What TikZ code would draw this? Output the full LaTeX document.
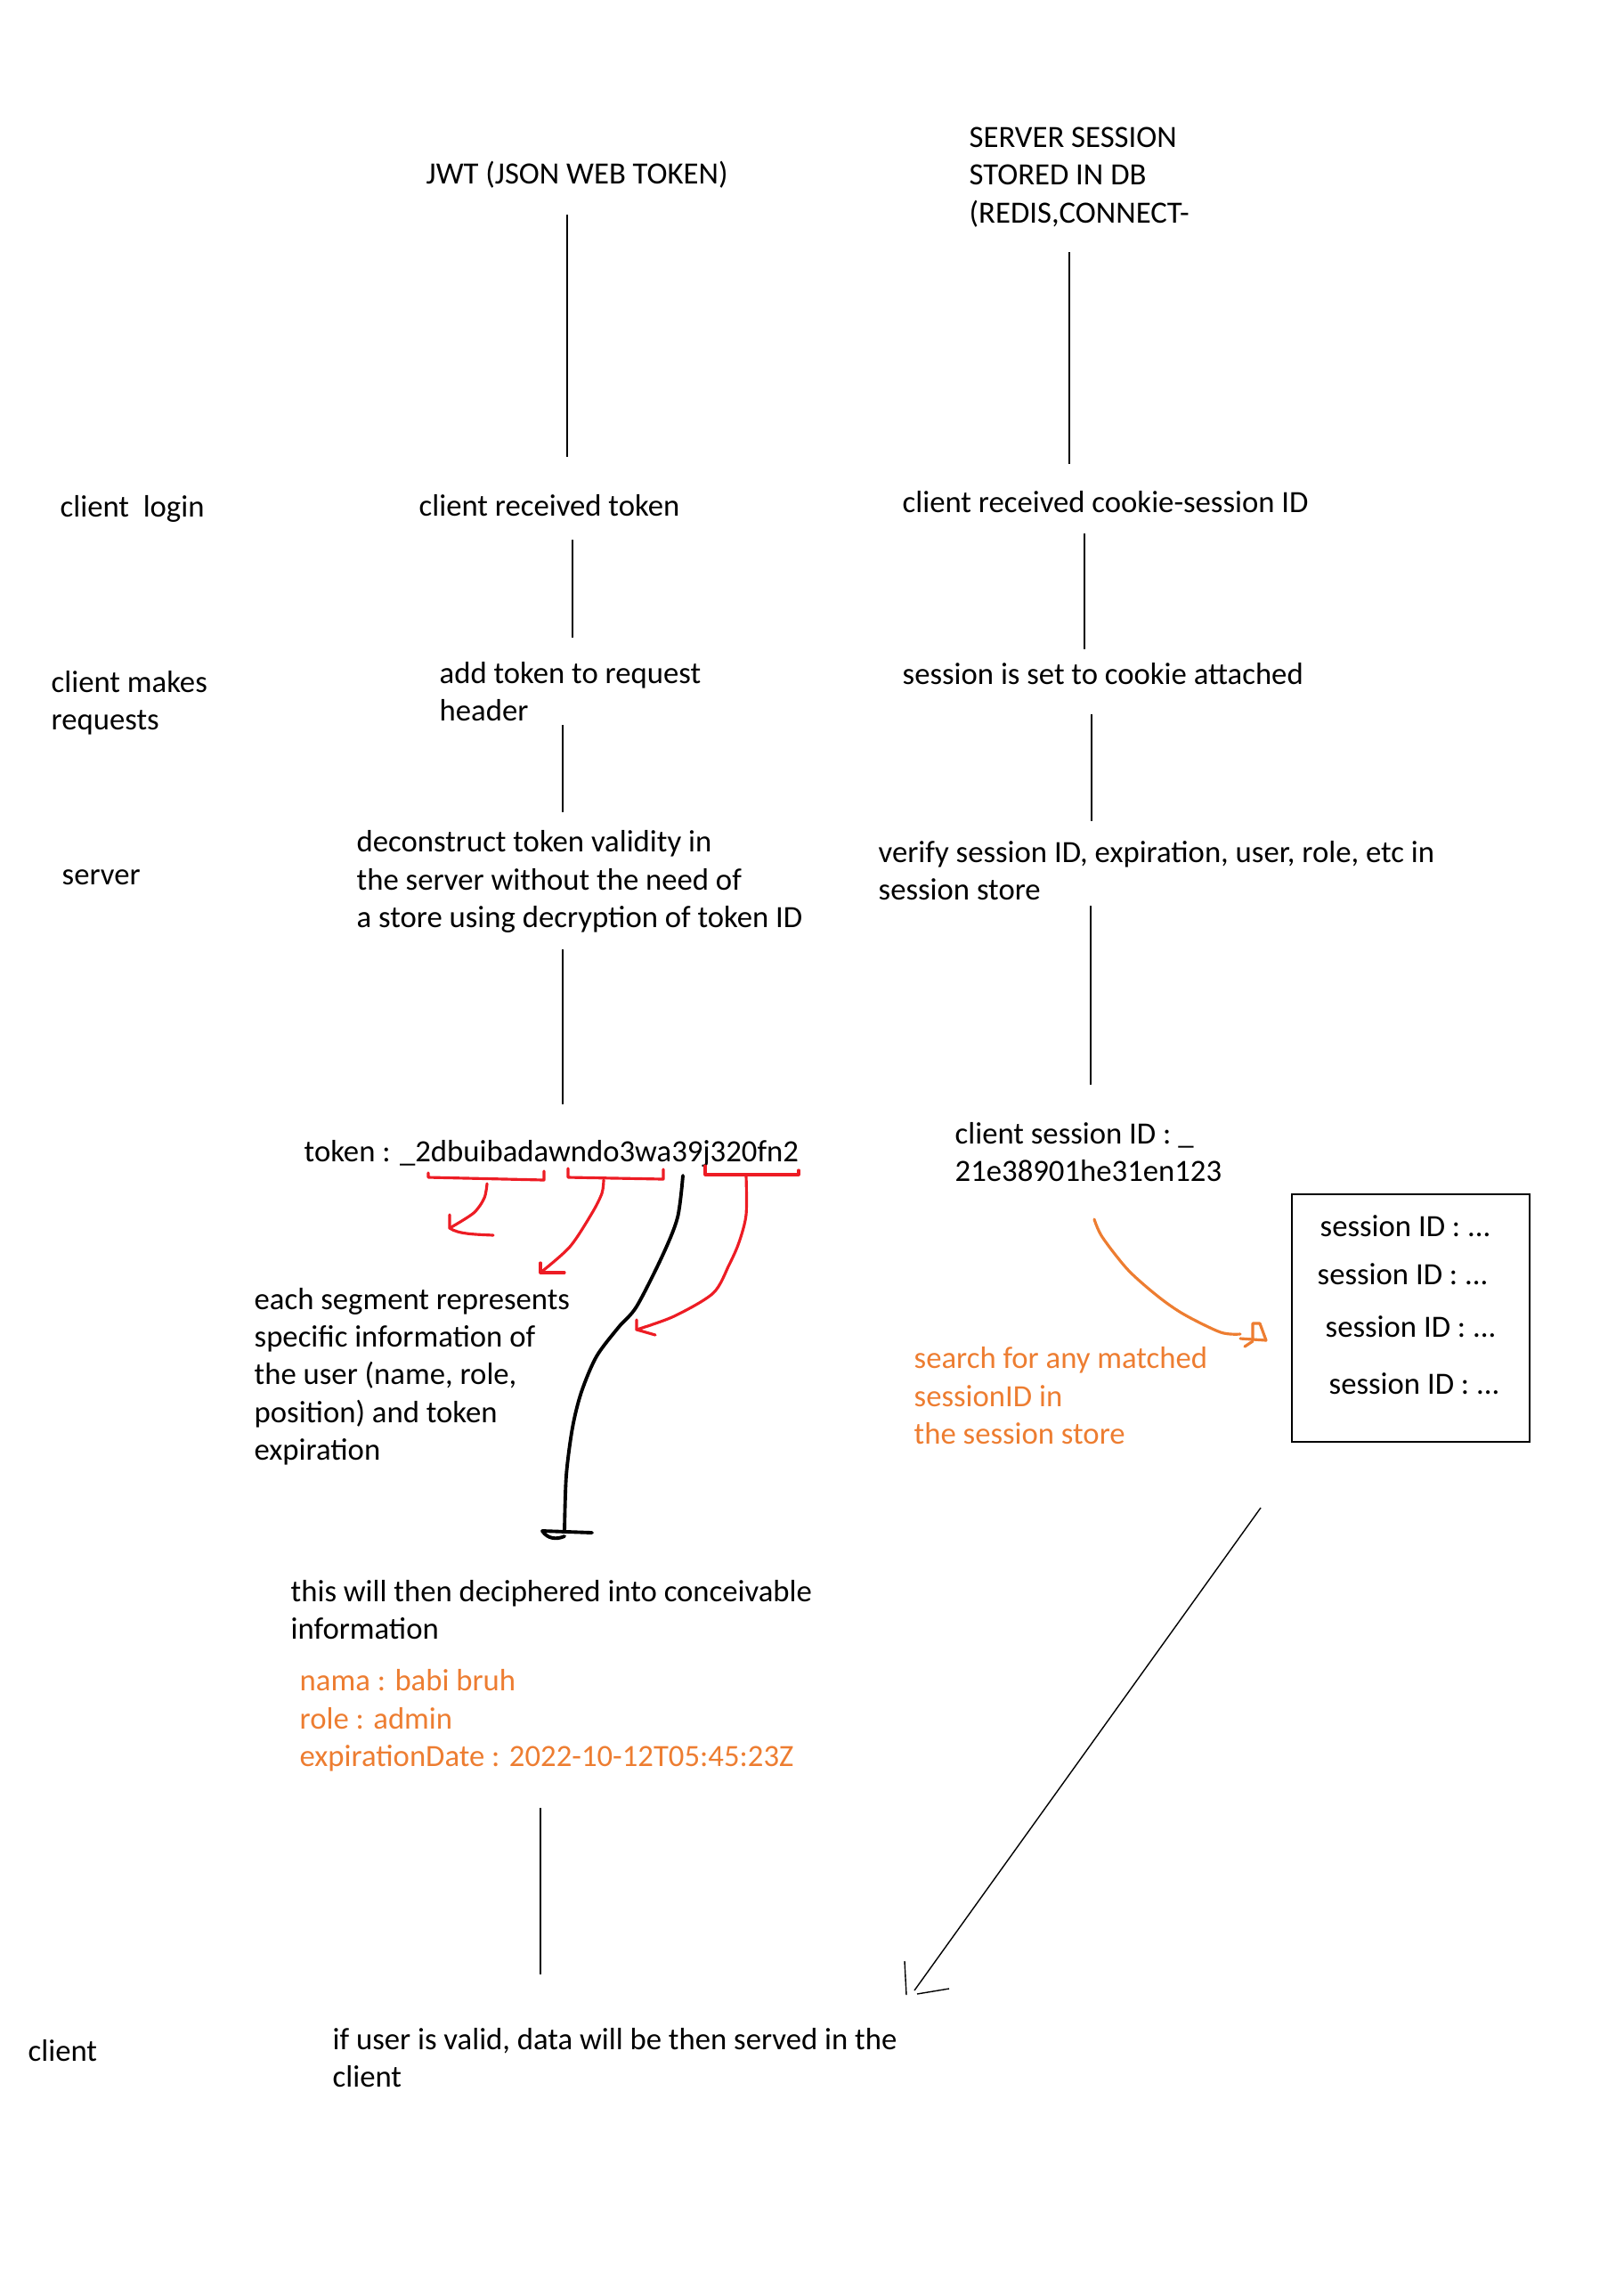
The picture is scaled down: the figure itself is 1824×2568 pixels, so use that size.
\documentclass[tikz,border=0pt]{standalone}
\usepackage{fontspec}
\setmainfont{Carlito}
\usetikzlibrary{positioning}
\definecolor{orng}{HTML}{ED7D31}
\definecolor{redmark}{HTML}{ED1C24}

\begin{document}
\begin{tikzpicture}[x=0.01cm,y=-0.01cm,
  tx/.style={anchor=base west,inner sep=0pt,align=left,font=\fontsize{9.87}{11.95}\selectfont},
  otx/.style={tx,text=orng},
  ln/.style={line width=0.4pt},
  rd/.style={draw=redmark,line width=0.9pt,line cap=round,line join=round},
  od/.style={draw=orng,line width=0.9pt,line cap=round,line join=round}]
\useasboundingbox (0,0) rectangle (1824,2568);

% column heads (multi-line nodes sit on their last baseline)
\node[tx] (jwt) at (478,206) {JWT (JSON WEB TOKEN)};
\node[tx] (srvsess) at (1088,250) {SERVER SESSION\\STORED IN DB\\(REDIS,CONNECT-};

% row labels
\node[tx] (login) at (67,580) {client\ \ login};
\node[tx] (makes) at (57,819) {client makes\\requests};
\node[tx] (server) at (69,993) {server};
\node[tx] (client) at (31,2314) {client};

% jwt column
\node[tx] (rtoken) at (470,579) {client received token};
\node[tx] (addtok) at (493,809) {add token to request\\header};
\node[tx] (decon) at (400,1041) {deconstruct token validity in\\the server without the need of\\a store using decryption of token ID};
\node[tx] (token) at (341,1304) {token : \_2dbuibadawndo3wa39j320fn2};
\node[tx] (segment) at (285,1639) {each segment represents\\specific information of\\the user (name, role,\\position) and token\\expiration};
\node[tx] (decipher) at (326,1840) {this will then deciphered into conceivable\\information};
\node[otx] (payload) at (336,1983) {nama : babi bruh\\role : admin\\expirationDate : 2022-10-12T05:45:23Z};
\node[tx] (valid) at (373,2343) {if user is valid, data will be then served in the\\client};

% session column
\node[tx] (rcookie) at (1013,575) {client received cookie-session ID};
\node[tx] (setcookie) at (1013,768) {session is set to cookie attached};
\node[tx] (verify) at (986,1010) {verify session ID, expiration, user, role, etc in\\session store};
\node[tx] (csid) at (1072,1326) {client session ID : \_\\21e38901he31en123};
\node[otx] (search) at (1026,1621) {search for any matched\\sessionID in\\the session store};
\node[draw,line width=0.5pt,inner sep=0pt,minimum width=2.67cm,minimum height=2.78cm] (store) at (1584.5,1480) {};
\node[tx] (sid1) at (1482,1388) {session ID : ...};
\node[tx] (sid2) at (1479,1442) {session ID : ...};
\node[tx] (sid3) at (1488,1501) {session ID : ...};
\node[tx] (sid4) at (1492,1565) {session ID : ...};

% vertical links
\foreach \n/\x/\ya/\yb in {j1/637/241/513, s1/1201/283/521, j2/643/606/716, s2/1218/599/729,
  j3/632/814/912, s3/1226/802/922, j4/632/1066/1240, s4/1225/1017/1218, j5/607/2030/2217}{
  \coordinate (\n-t) at (\x,\ya);
  \coordinate (\n-b) at (\x,\yb);
  \draw[ln] (\n-t) -- (\n-b);
}

% red segment marks
\draw[rd] (481,1317) -- (481,1322) -- (611,1325) -- (611,1315);
\draw[rd] (638,1312) -- (638,1322) -- (745,1324) -- (745,1313);
\draw[rd] (792,1309) -- (792,1319) -- (897,1319) -- (897,1314);
\coordinate (tipa) at (505,1379);
\coordinate (tipb) at (607,1429);
\coordinate (tipc) at (715,1493);
\draw[rd] plot[smooth] coordinates {(547,1329) (544,1345) (532,1362) (505,1379)};
\draw[rd] (505,1364) -- (tipa) .. controls (515,1386) and (535,1386) .. (554,1387);
\draw[rd] plot[smooth] coordinates {(678,1325) (676,1340) (665,1362) (640,1400) (607,1429)};
\draw[rd] (607,1418) -- (tipb) -- (634,1429);
\draw[rd] plot[smooth] coordinates {(838,1320) (838,1364) (830,1395) (819,1420) (801,1452) (757,1478) (715,1493)};
\draw[rd] (715,1482) -- (tipc) -- (736,1499);

% black decode stroke
\coordinate (dec-t) at (767,1320);
\coordinate (dec-b) at (634,1720);
\draw[line width=1.1pt,line cap=round] plot[smooth] coordinates {(dec-t) (761,1367) (744,1410) (715,1467) (695,1490) (670,1523) (653,1563) (643,1603) (636,1657) (dec-b)};
\draw[line width=1.1pt,line cap=round] (609,1719) -- (665,1721);
\draw[line width=1.1pt,line cap=round] (609,1719) .. controls (615,1728) and (625,1729) .. (634,1725);

% orange search stroke
\draw[od] plot[smooth] coordinates {(1229,1369) (1238,1389) (1267,1426) (1301,1456) (1330,1476) (1371,1496) (1393,1498)};
\draw[od] (1393,1503) -- (1422,1505);
\draw[od] (1407,1503) -- (1407,1486) -- (1415,1486) -- (1422,1505);
\draw[od] (1407,1506) -- (1398,1512);

% store back to client
\coordinate (back-t) at (1416,1693);
\coordinate (back-b) at (1027,2235);
\draw[ln] (back-t) -- (back-b);
\draw[ln] (1016,2202) -- (1018,2240);
\draw[ln] (1030,2239) -- (1066,2233);
\end{tikzpicture}
\end{document}
